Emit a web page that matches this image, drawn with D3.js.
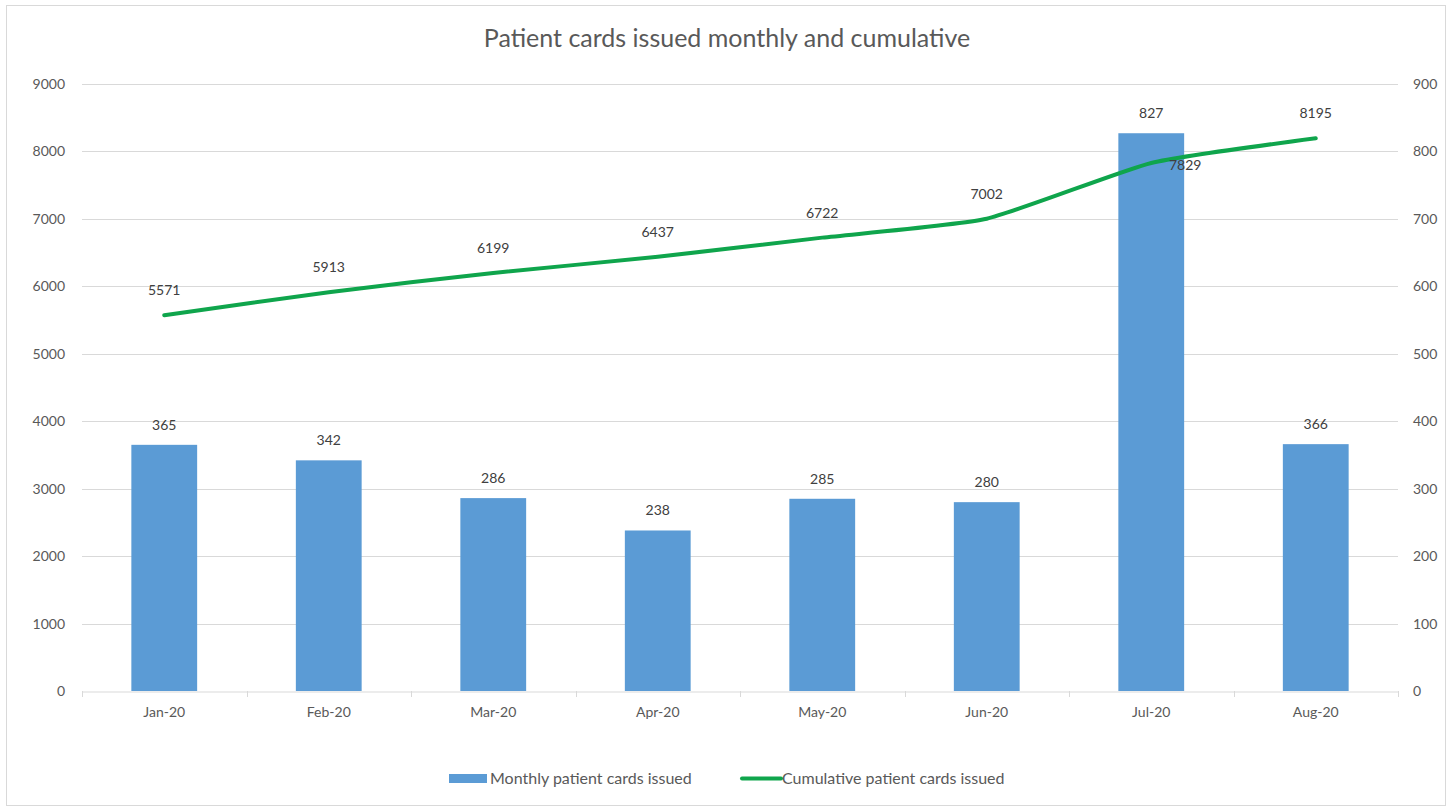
<!DOCTYPE html>
<html>
<head>
<meta charset="utf-8">
<script src="https://cdn.jsdelivr.net/npm/d3@7"></script>
<style>
  body { margin: 0; background: #fff; }
  text { font-family: Lato, "Open Sans", sans-serif; }
</style>
</head>
<body>
<svg id="svg" width="1456" height="808"></svg>
<script>
// data
var months = ["Jan-20","Feb-20","Mar-20","Apr-20","May-20","Jun-20","Jul-20","Aug-20"];
var monthly = [365, 342, 286, 238, 285, 280, 827, 366];
var cumulative = [5571, 5913, 6199, 6437, 6722, 7002, 7829, 8195];
var leftTicks = [0,1000,2000,3000,4000,5000,6000,7000,8000,9000];
var rightTicks = [0,100,200,300,400,500,600,700,800,900];
var lineLabelPos = ["above","above","above","above","above","above","right","above"];

var svg = d3.select("#svg");
var plotLeft = 82, plotRight = 1398, plotTop = 84, plotBottom = 691;
var fontStack = "Lato, 'Open Sans', sans-serif";

// chart frame
svg.append("rect")
    .attr("x", 6.5).attr("y", 5.5)
    .attr("width", 1439).attr("height", 800)
    .attr("fill", "#fff")
    .attr("stroke", "#d9d9d9");

var x = d3.scaleBand().domain(months).range([plotLeft, plotRight]).padding(0);
var yL = d3.scaleLinear().domain([0, 9000]).range([plotBottom, plotTop]);
var yR = d3.scaleLinear().domain([0, 900]).range([plotBottom, plotTop]);

// title
svg.append("text")
    .attr("x", 727).attr("y", 47)
    .attr("text-anchor", "middle")
    .attr("font-size", "25px")
    .attr("fill", "#595959")
    .text("Patient cards issued monthly and cumulative");

// gridlines
svg.append("g").selectAll("line")
    .data(leftTicks.filter(function(d){ return d > 0; }))
    .enter().append("line")
    .attr("x1", plotLeft).attr("x2", plotRight)
    .attr("y1", function(d){ return Math.round(yL(d)) + 0.5; })
    .attr("y2", function(d){ return Math.round(yL(d)) + 0.5; })
    .attr("stroke", "#d9d9d9");

// left axis labels
var axL = svg.append("g").attr("transform", "translate(" + plotLeft + ",0)")
    .call(d3.axisLeft(yL).tickValues(leftTicks).tickFormat(d3.format("d")).tickSize(0).tickPadding(17));
axL.select(".domain").remove();
axL.selectAll("text").attr("font-size", "14px").attr("fill", "#595959")
    .style("font-family", fontStack);

// right axis labels
var axR = svg.append("g").attr("transform", "translate(" + plotRight + ",0)")
    .call(d3.axisRight(yR).tickValues(rightTicks).tickFormat(d3.format("d")).tickSize(0).tickPadding(15));
axR.select(".domain").remove();
axR.selectAll("text").attr("font-size", "14px").attr("fill", "#595959")
    .style("font-family", fontStack);

// bars (secondary axis)
svg.append("g").selectAll("rect")
    .data(monthly)
    .enter().append("rect")
    .attr("x", function(d,i){ return x(months[i]) + x.bandwidth()*0.3; })
    .attr("width", x.bandwidth()*0.4)
    .attr("y", function(d){ return yR(d); })
    .attr("height", function(d){ return plotBottom - yR(d); })
    .attr("fill", "#5b9bd5");

// x axis
var axX = svg.append("g").attr("transform", "translate(0," + (plotBottom + 0.5) + ")")
    .call(d3.axisBottom(x).tickSize(0).tickPadding(16));
axX.select(".domain").attr("stroke", "#d9d9d9");
axX.selectAll("text").attr("font-size", "14px").attr("fill", "#595959")
    .style("font-family", fontStack);
svg.append("g").selectAll("line")
    .data(months.concat(["end"]))
    .enter().append("line")
    .attr("x1", function(d,i){ return Math.round(plotLeft + i*x.step()) + 0.5; })
    .attr("x2", function(d,i){ return Math.round(plotLeft + i*x.step()) + 0.5; })
    .attr("y1", plotBottom).attr("y2", plotBottom + 6)
    .attr("stroke", "#d9d9d9");

// bar labels
svg.append("g").selectAll("text")
    .data(monthly)
    .enter().append("text")
    .attr("x", function(d,i){ return x(months[i]) + x.bandwidth()/2; })
    .attr("y", function(d){ return yR(d) - 15; })
    .attr("text-anchor", "middle")
    .attr("font-size", "14px")
    .attr("fill", "#404040")
    .text(function(d){ return d; });

// cumulative line (primary axis)
var line = d3.line()
    .x(function(d,i){ return x(months[i]) + x.bandwidth()/2; })
    .y(function(d){ return yL(d); })
    .curve(d3.curveCardinal.tension(0.5));
svg.append("path")
    .datum(cumulative)
    .attr("d", line)
    .attr("fill", "none")
    .attr("stroke", "#0fa54c")
    .attr("stroke-width", 4)
    .attr("stroke-linecap", "round")
    .attr("stroke-linejoin", "round");

// line labels
svg.append("g").selectAll("text")
    .data(cumulative)
    .enter().append("text")
    .attr("x", function(d,i){
        var cx = x(months[i]) + x.bandwidth()/2;
        return lineLabelPos[i] == "right" ? cx + 34 : cx;
    })
    .attr("y", function(d,i){
        return lineLabelPos[i] == "right" ? yL(d) + 7 : yL(d) - 20;
    })
    .attr("text-anchor", "middle")
    .attr("font-size", "14px")
    .attr("fill", "#404040")
    .text(function(d){ return d; });

// legend
var legend = svg.append("g");
legend.append("rect")
    .attr("x", 449).attr("y", 774)
    .attr("width", 38).attr("height", 9)
    .attr("fill", "#5b9bd5");
legend.append("text")
    .attr("x", 490).attr("y", 784)
    .attr("font-size", "16px").attr("fill", "#595959")
    .text("Monthly patient cards issued");
legend.append("line")
    .attr("x1", 742).attr("x2", 781)
    .attr("y1", 778.5).attr("y2", 778.5)
    .attr("stroke", "#0fa54c").attr("stroke-width", 4)
    .attr("stroke-linecap", "round");
legend.append("text")
    .attr("x", 782).attr("y", 784)
    .attr("font-size", "16px").attr("fill", "#595959")
    .text("Cumulative patient cards issued");
</script>
</body>
</html>
